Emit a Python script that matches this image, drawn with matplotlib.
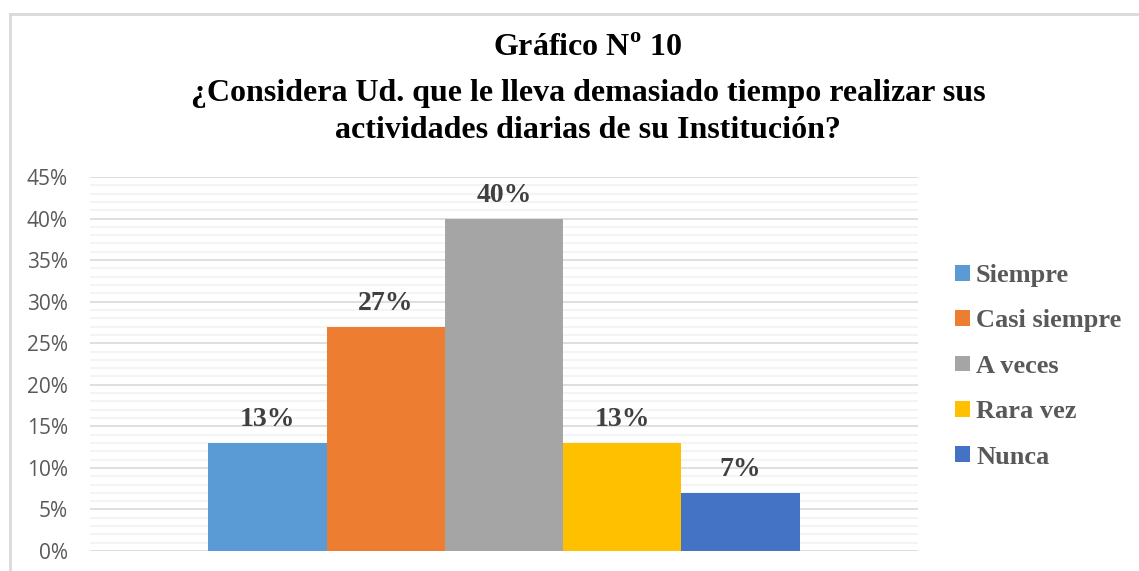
import matplotlib
matplotlib.use("Agg")
import matplotlib.pyplot as plt
from matplotlib.lines import Line2D
from matplotlib.patches import Patch
from matplotlib.ticker import MultipleLocator, FuncFormatter

categories = ["Siempre", "Casi siempre", "A veces", "Rara vez", "Nunca"]
values = [13, 27, 40, 13, 7]
labels = ["13%", "27%", "40%", "13%", "7%"]
colors = ["#5B9BD5", "#ED7D31", "#A5A5A5", "#FFC000", "#4472C4"]
title_lines = [
    "Gráfico N$^{\\mathbf{o}}$ 10",
    "¿Considera Ud. que le lleva demasiado tiempo realizar sus",
    "actividades diarias de su Institución?",
]

plt.rcParams["mathtext.fontset"] = "custom"
plt.rcParams["mathtext.rm"] = "Liberation Serif"
plt.rcParams["mathtext.bf"] = "Liberation Serif:bold"

W, H = 1139, 571
fig = plt.figure(figsize=(W / 100, H / 100), dpi=100)
fig.patch.set_facecolor("white")

# outer chart frame (top and left edges visible)
fig.add_artist(Line2D([9.5 / W, 1.0], [1 - 13.5 / H, 1 - 13.5 / H],
                      transform=fig.transFigure, color="#d9d9d9", lw=2))
fig.add_artist(Line2D([9.5 / W, 9.5 / W], [0, 1 - 13.5 / H],
                      transform=fig.transFigure, color="#d9d9d9", lw=2))

ax = fig.add_axes([90 / W, 1 - 551 / H, (918 - 90) / W, (551 - 177) / H])
ax.set_xlim(-3.5, 3.5)
ax.set_ylim(0, 45)

positions = [i - 2 for i in range(len(values))]
ax.bar(positions, values, width=1.0, color=colors, zorder=3)

for x, v, t in zip(positions, values, labels):
    ax.annotate(t, (x, v), xytext=(0, 12), textcoords="offset points",
                ha="center", va="baseline", fontsize=20, fontweight="bold",
                family="Liberation Serif", color="#404040")

ax.yaxis.set_major_locator(MultipleLocator(5))
ax.yaxis.set_minor_locator(MultipleLocator(1))
ax.yaxis.set_major_formatter(FuncFormatter(lambda v, p: f"{v:.0f}%"))
ax.grid(which="major", axis="y", color="#d9d9d9", lw=1.2, zorder=1)
ax.grid(which="minor", axis="y", color="#f2f2f2", lw=1.2, zorder=0)
ax.tick_params(axis="y", which="both", length=0, pad=16,
               labelsize=15, labelcolor="#595959")
ax.tick_params(axis="x", which="both", length=0, labelbottom=False)
for lab in ax.get_yticklabels():
    lab.set_family("Open Sans")
for s in ax.spines.values():
    s.set_visible(False)

ys = [48, 93, 130]
for t, y in zip(title_lines, ys):
    fig.text(588 / W, 1 - y / H, t, ha="center", va="center",
             fontsize=23, fontweight="bold", family="Liberation Serif",
             color="black")

handles = [Patch(facecolor=c, edgecolor="none") for c in colors]
leg = fig.legend(handles, categories, loc="upper left",
                 bbox_to_anchor=(955 / W, 1 - 264 / H), frameon=False,
                 prop={"family": "Liberation Serif", "weight": "bold", "size": 19},
                 handlelength=0.55, handleheight=0.55, handletextpad=0.25,
                 labelspacing=0.85, borderaxespad=0, borderpad=0)
for t in leg.get_texts():
    t.set_color("#595959")

fig.savefig("out.png", dpi=100)
